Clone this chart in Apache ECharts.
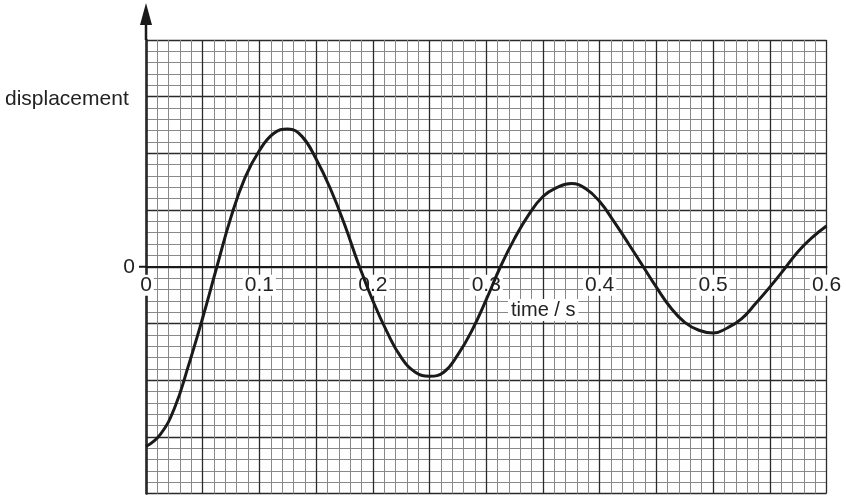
<!DOCTYPE html>
<html>
<head>
<meta charset="utf-8">
<script src="https://cdn.jsdelivr.net/npm/echarts@6/dist/echarts.min.js"></script>
<style>
html, body { margin: 0; padding: 0; background: #fff; }
#main { width: 846px; height: 497px; }
</style>
</head>
<body>
<div id="main"></div>
<script>
// time / s, every 1/8 of a big square
var times = [0, 0.0125, 0.025, 0.0375, 0.05, 0.0625, 0.075, 0.0875,
             0.1, 0.1125, 0.125, 0.1375, 0.15, 0.1625, 0.175, 0.1875,
             0.2, 0.2125, 0.225, 0.2375, 0.25, 0.2625, 0.275, 0.2875,
             0.3, 0.3125, 0.325, 0.3375, 0.35, 0.3625, 0.375, 0.3875,
             0.4, 0.4125, 0.425, 0.4375, 0.45, 0.4625, 0.475, 0.4875,
             0.5, 0.5125, 0.525, 0.5375, 0.55, 0.5625, 0.575, 0.5875, 0.6];
// displacement (big-square units)
var disp = [-3.17, -2.96, -2.5, -1.74, -0.9, 0, 0.88, 1.58,
            2.05, 2.35, 2.43, 2.3, 1.9, 1.38, 0.75, 0.04,
            -0.6, -1.15, -1.6, -1.86, -1.93, -1.86, -1.55, -1.12,
            -0.58, 0, 0.5, 0.92, 1.24, 1.4, 1.47, 1.38,
            1.15, 0.8, 0.42, 0.03, -0.36, -0.72, -0.98, -1.12,
            -1.17, -1.08, -0.92, -0.65, -0.36, -0.05, 0.27, 0.52, 0.72];
var xTickLabels = [0, 0.1, 0.2, 0.3, 0.4, 0.5, 0.6];
var yTickLabels = [0];

var xMin = 0, xMax = 0.6, yMin = -4, yMax = 4;

var points = [];
for (var i = 0; i < times.length; i++) {
    points.push([times[i], disp[i]]);
}

var dom = document.getElementById('main');
var myChart = echarts.init(dom);
var font = 'Liberation Sans, Arial, sans-serif';

var option = {
    backgroundColor: '#fff',
    animation: false,
    title: [
        {
            text: 'displacement',
            left: 0,
            top: 84,
            textStyle: { color: '#222', fontSize: 21, fontWeight: 'normal', fontFamily: font }
        },
        {
            text: 'time / s',
            left: 508,
            top: 299,
            padding: [1, 3],
            backgroundColor: '#fff',
            textStyle: { color: '#222', fontSize: 20, fontWeight: 'normal', fontFamily: font }
        }
    ],
    grid: {
        left: 146,
        right: 19.5,
        top: 40,
        bottom: 3.5,
        containLabel: false,
        outerBoundsMode: 'none'
    },
    xAxis: {
        type: 'value',
        position: 'bottom',
        offset: 0,
        min: xMin,
        max: xMax,
        interval: 0.05,
        z: 1,
        axisLine: { onZero: false, lineStyle: { color: '#1a1a1a', width: 2 } },
        axisTick: { show: false },
        axisLabel: {
            customValues: xTickLabels,
            margin: 8,
            color: '#222',
            fontSize: 21,
            fontFamily: font,
            backgroundColor: '#fff',
            padding: [0, 2],
            formatter: function (v) { return String(+v.toFixed(1)); }
        },
        splitLine: { show: true, lineStyle: { color: '#2a2a2a', width: 1.3 } },
        minorTick: { show: false, splitNumber: 5 },
        minorSplitLine: { show: true, lineStyle: { color: '#888', width: 1 } }
    },
    yAxis: {
        type: 'value',
        min: yMin,
        max: yMax,
        interval: 1,
        z: 0,
        axisLine: { onZero: false, lineStyle: { color: '#1a1a1a', width: 2.5 } },
        axisTick: { show: false },
        axisLabel: {
            customValues: yTickLabels,
            margin: 11,
            color: '#222',
            fontSize: 21,
            fontFamily: font
        },
        splitLine: { show: true, lineStyle: { color: '#2a2a2a', width: 1.3 } },
        minorTick: { show: false, splitNumber: 5 },
        minorSplitLine: { show: true, lineStyle: { color: '#888', width: 1 } }
    },
    series: [
        {
            type: 'line',
            data: points,
            smooth: 0.45,
            symbol: 'none',
            z: 2,
            lineStyle: { color: '#1a1a1a', width: 3 }
        }
    ]
};

myChart.setOption(option);

// move the time axis up to displacement = 0, then arrow head and tick at zero
var pTop = myChart.convertToPixel({ xAxisIndex: 0, yAxisIndex: 0 }, [xMin, yMax]);
var pZero = myChart.convertToPixel({ xAxisIndex: 0, yAxisIndex: 0 }, [xMin, 0]);
var pBottom = myChart.convertToPixel({ xAxisIndex: 0, yAxisIndex: 0 }, [xMin, yMin]);
myChart.setOption({
    xAxis: { offset: pZero[1] - pBottom[1] },
    graphic: [
        {
            type: 'line',
            shape: { x1: pTop[0], y1: pTop[1], x2: pTop[0], y2: pTop[1] - 18 },
            style: { stroke: '#1a1a1a', lineWidth: 2.5 }
        },
        {
            type: 'polygon',
            shape: { points: [[pTop[0], pTop[1] - 37], [pTop[0] - 6, pTop[1] - 15], [pTop[0] + 6, pTop[1] - 15]] },
            style: { fill: '#1a1a1a' }
        },
        {
            type: 'line',
            shape: { x1: pZero[0] - 7, y1: pZero[1], x2: pZero[0], y2: pZero[1] },
            style: { stroke: '#1a1a1a', lineWidth: 2 }
        }
    ]
});
</script>
</body>
</html>
